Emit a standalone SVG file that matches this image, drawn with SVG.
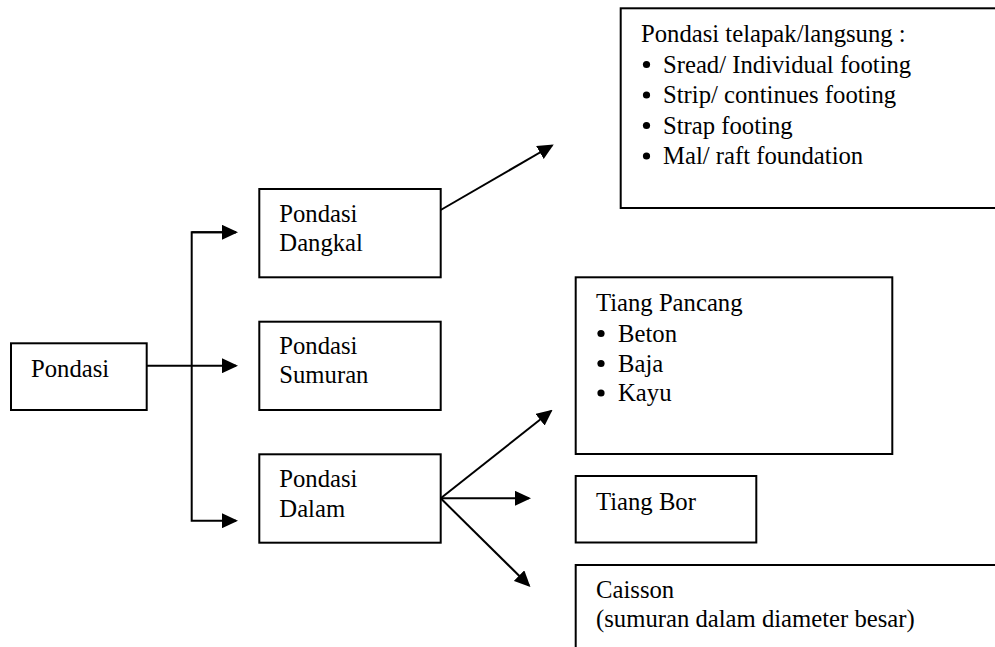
<svg xmlns="http://www.w3.org/2000/svg" width="995" height="647" viewBox="0 0 995 647">
<defs>
<style>
.box{fill:#fff;stroke:#000;stroke-width:2}
.t{font-family:"Liberation Serif","Times New Roman",serif;font-size:24.7px;fill:#000}
.c{fill:none;stroke:#000;stroke-width:2}
.b{fill:#000}
</style>
<marker id="ah" markerUnits="userSpaceOnUse" markerWidth="16" markerHeight="15" viewBox="0 0 16 15" refX="14" refY="7.5" orient="auto">
<path d="M0,0 L16,7.5 L0,15 z" fill="#000"/>
</marker>
</defs>
<rect width="995" height="647" fill="#fff"/>
<g id="connectors">
<line class="c" x1="147" y1="365.7" x2="236" y2="365.7" marker-end="url(#ah)"/>
<polyline class="c" points="236,232.3 191.7,232.3 191.7,520.7 236,520.7" marker-end="url(#ah)"/>
<line class="c" x1="191.7" y1="232.3" x2="236" y2="232.3" marker-end="url(#ah)"/>
<line class="c" x1="440.7" y1="210" x2="552" y2="145.5" marker-end="url(#ah)"/>
<line class="c" x1="440.7" y1="498.3" x2="551" y2="411" marker-end="url(#ah)"/>
<line class="c" x1="440.7" y1="498.3" x2="529" y2="498.3" marker-end="url(#ah)"/>
<line class="c" x1="440.7" y1="498.3" x2="529" y2="585.5" marker-end="url(#ah)"/>
</g>
<g id="pondasi">
<rect class="box" x="11" y="343.3" width="135.7" height="66.7"/>
<text class="t" x="31" y="376.7">Pondasi</text>
</g>
<g id="dangkal">
<rect class="box" x="259.3" y="189" width="181.4" height="88.3"/>
<text class="t" x="279.3" y="221.7">Pondasi</text>
<text class="t" x="279.3" y="250.7">Dangkal</text>
</g>
<g id="sumuran">
<rect class="box" x="259.3" y="321.7" width="181.4" height="88.3"/>
<text class="t" x="279.3" y="354.3">Pondasi</text>
<text class="t" x="279.3" y="383.3">Sumuran</text>
</g>
<g id="dalam">
<rect class="box" x="259.3" y="454.3" width="181.4" height="88.4"/>
<text class="t" x="279.3" y="486.7">Pondasi</text>
<text class="t" x="279.3" y="516.7">Dalam</text>
</g>
<g id="telapak">
<rect class="box" x="620.7" y="8.3" width="390" height="199.7"/>
<text class="t" x="641" y="42">Pondasi telapak/langsung :</text>
<circle class="b" cx="646.5" cy="64.5" r="3.6"/>
<text class="t" x="663" y="72.5">Sread/ Individual footing</text>
<circle class="b" cx="646.5" cy="95" r="3.6"/>
<text class="t" x="663" y="103">Strip/ continues footing</text>
<circle class="b" cx="646.5" cy="125.5" r="3.6"/>
<text class="t" x="663" y="133.5">Strap footing</text>
<circle class="b" cx="646.5" cy="156" r="3.6"/>
<text class="t" x="663" y="164">Mal/ raft foundation</text>
</g>
<g id="tiang-pancang">
<rect class="box" x="575.7" y="277.3" width="316.6" height="176.7"/>
<text class="t" x="596" y="310.7">Tiang Pancang</text>
<circle class="b" cx="601" cy="333.5" r="3.6"/>
<text class="t" x="618" y="341.5">Beton</text>
<circle class="b" cx="601" cy="363.5" r="3.6"/>
<text class="t" x="618" y="371.5">Baja</text>
<circle class="b" cx="601" cy="393" r="3.6"/>
<text class="t" x="618" y="401">Kayu</text>
</g>
<g id="tiang-bor">
<rect class="box" x="575.7" y="476" width="180.6" height="66.5"/>
<text class="t" x="596" y="510">Tiang Bor</text>
</g>
<g id="caisson">
<rect class="box" x="575.7" y="565" width="440" height="100"/>
<text class="t" x="596" y="598.3">Caisson</text>
<text class="t" x="596" y="626.7">(sumuran dalam diameter besar)</text>
</g>
</svg>
